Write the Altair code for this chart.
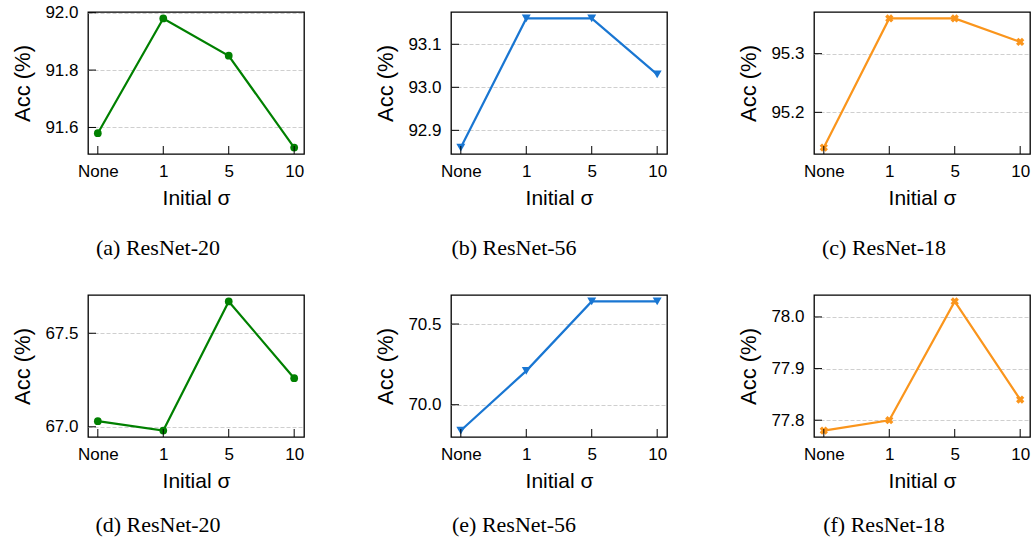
import altair as alt
import pandas as pd

sigma_labels = ["None", "1", "5", "10"]

acc_a = [91.58, 91.98, 91.85, 91.53]
acc_b = [92.86, 93.16, 93.16, 93.03]
acc_c = [95.14, 95.36, 95.36, 95.32]
acc_d = [67.03, 66.98, 67.67, 67.26]
acc_e = [69.84, 70.21, 70.64, 70.64]
acc_f = [77.78, 77.80, 78.03, 77.84]

ticks_a = [91.6, 91.8, 92.0]
ticks_b = [92.9, 93.0, 93.1]
ticks_c = [95.2, 95.3]
ticks_d = [67.0, 67.5]
ticks_e = [70.0, 70.5]
ticks_f = [77.8, 77.9, 78.0]

captions = ["(a) ResNet-20", "(b) ResNet-56", "(c) ResNet-18",
            "(d) ResNet-20", "(e) ResNet-56", "(f) ResNet-18"]

GREEN = "#008000"
BLUE = "#1976D2"
ORANGE = "#FA951C"

W, H = 216, 142
SANS = "Liberation Sans"


def panel(vals, ticks, color, shape, size, caption, dx, offset):
    lo, hi = min(vals), max(vals)
    m = (hi - lo) * 0.05
    yscale = alt.Scale(domain=[lo - m, hi + m], nice=False, zero=False)
    xscale = alt.Scale(type="point", padding=0.15)
    df = pd.DataFrame({"sigma": sigma_labels, "acc": vals})
    x = alt.X("sigma:N", sort=sigma_labels, scale=xscale,
              axis=alt.Axis(title="Initial σ", labelAngle=0, ticks=False, domain=False,
                            grid=False, labelPadding=9, titlePadding=8,
                            labelFont=SANS, labelFontSize=17, labelColor="black",
                            titleFont=SANS, titleFontSize=21, titleFontWeight="normal",
                            titleColor="black"))
    y = alt.Y("acc:Q", scale=yscale,
              axis=alt.Axis(title="Acc (%)", values=ticks, format=".1f", ticks=False,
                            domain=False, grid=True, gridDash=[4, 2], gridColor="#cfcfcf",
                            gridWidth=1, labelPadding=10, titlePadding=10,
                            labelFont=SANS, labelFontSize=17, labelColor="black",
                            titleFont=SANS, titleFontSize=22, titleFontWeight="normal",
                            titleColor="black"))
    base = alt.Chart(df).encode(x=x, y=y)
    line = base.mark_line(color=color, strokeWidth=2.2)
    pts = base.mark_point(shape=shape, filled=True, size=size, color=color, opacity=1,
                          angle=45 if shape == "cross" else 0)
    yt = alt.Chart(pd.DataFrame({"acc": ticks})).mark_rule(color="black", strokeWidth=1).encode(
        y=alt.Y("acc:Q", scale=yscale), x=alt.value(0), x2=alt.value(8))
    xt = alt.Chart(pd.DataFrame({"sigma": sigma_labels})).mark_rule(color="black", strokeWidth=1).encode(
        x=alt.X("sigma:N", sort=sigma_labels, scale=xscale),
        y=alt.value(H), y2=alt.value(H - 8))
    return alt.layer(line, pts, yt, xt).properties(
        width=W, height=H,
        title=alt.TitleParams(caption, orient="bottom", anchor="middle", font="Liberation Serif",
                              fontSize=22, fontWeight="normal", color="black", offset=offset, dx=dx))


charts = [
    panel(acc_a, ticks_a, GREEN, "circle", 60, captions[0], -38, 30),
    panel(acc_b, ticks_b, BLUE, "triangle-down", 80, captions[1], -45, 30),
    panel(acc_c, ticks_c, ORANGE, "cross", 70, captions[2], -38, 30),
    panel(acc_d, ticks_d, GREEN, "circle", 60, captions[3], -38, 24),
    panel(acc_e, ticks_e, BLUE, "triangle-down", 80, captions[4], -45, 24),
    panel(acc_f, ticks_f, ORANGE, "cross", 70, captions[5], -38, 24),
]

chart = alt.concat(*charts, columns=3, spacing={"row": 141, "column": 147}, bounds="flush").properties(
    padding={"left": 11, "top": 3, "right": 0, "bottom": 0}, background="white"
).configure_view(stroke="black", strokeWidth=1.3)

chart.save("out.html", embed_options={"renderer": "svg", "actions": False})
